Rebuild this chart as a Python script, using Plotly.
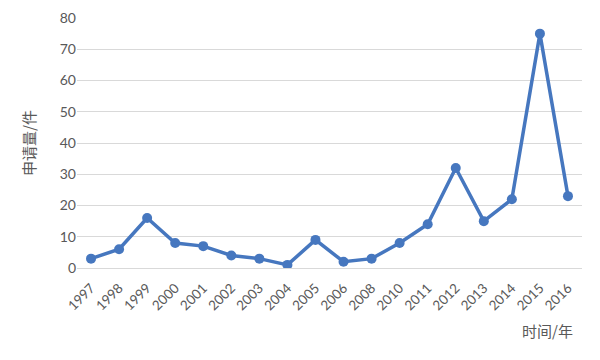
import plotly.graph_objects as go

years = ["1997", "1998", "1999", "2000", "2001", "2002", "2003", "2004", "2005",
         "2006", "2008", "2010", "2011", "2012", "2013", "2014", "2015", "2016"]
counts = [3, 6, 16, 8, 7, 4, 3, 1, 9, 2, 3, 8, 14, 32, 15, 22, 75, 23]
y_ticks = [0, 10, 20, 30, 40, 50, 60, 70, 80]

fig = go.Figure()
fig.add_trace(go.Scatter(
    x=years, y=counts, mode="lines+markers",
    line=dict(color="#4677BF", width=3.5),
    marker=dict(color="#4677BF", size=10),
    showlegend=False,
))

# page body has an 8px default margin, so the figure is sized 592x352
fig.update_layout(
    width=592, height=352,
    margin=dict(l=69, r=18, t=10, b=92),
    paper_bgcolor="white", plot_bgcolor="white",
    font=dict(family="Lato, Open Sans, sans-serif", color="#595959", size=13),
    xaxis=dict(type="category", range=[-0.5, 17.5], tickangle=-45,
               showgrid=False, showline=False, ticks="outside", ticklen=6,
               tickcolor="rgba(0,0,0,0)", automargin=False,
               tickfont=dict(size=13.5, color="#595959")),
    yaxis=dict(range=[0, 80], tickvals=y_ticks, showgrid=True,
               gridcolor="#D9D9D9", gridwidth=1, zeroline=True,
               zerolinecolor="#D9D9D9", zerolinewidth=1, ticks="",
               ticklen=8, tickcolor="white", automargin=False,
               tickfont=dict(size=14, color="#595959"),
               title=dict(text="申请量/件", standoff=20,
                          font=dict(family="Noto Sans CJK SC", size=15, color="#595959"))),
)

fig.add_annotation(
    text="时间/年", xref="paper", yref="paper", x=0.986, y=-0.25,
    xanchor="right", yanchor="middle", showarrow=False,
    font=dict(family="Noto Sans CJK SC", size=15, color="#595959"),
)

fig.write_html("out.html")
